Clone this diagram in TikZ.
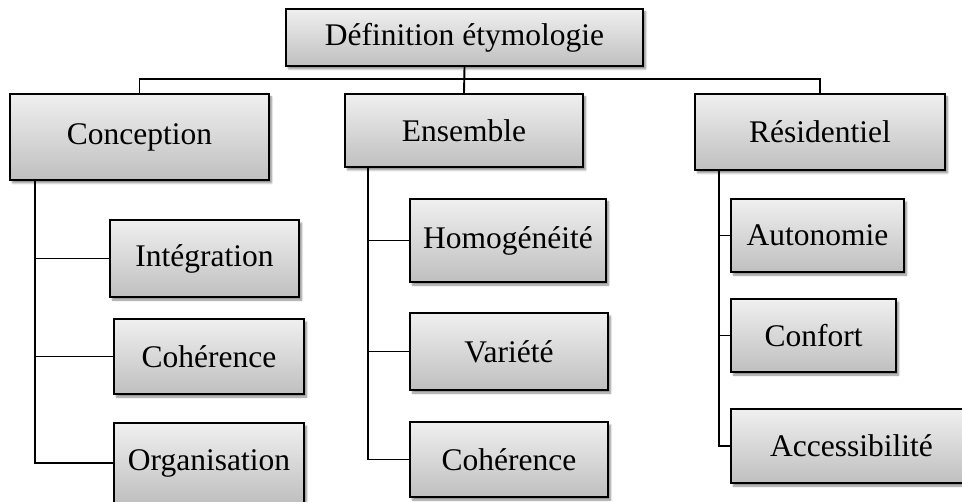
\documentclass[tikz,border=0pt]{standalone}
\usepackage{fontspec}
\setmainfont{Liberation Serif}
\usetikzlibrary{shadows.blur}
\begin{document}
\begin{tikzpicture}[x=1pt,y=-1pt,
  box/.style={draw=black, line width=2.2pt, rectangle, inner sep=0pt,
    top color=gray!12, bottom color=gray!50,
    blur shadow={shadow xshift=2.5pt, shadow yshift=-3pt, shadow blur steps=6, shadow opacity=45},
    font=\fontsize{31.5}{36}\selectfont},
  conn/.style={draw=black, line width=1.9pt}]
\useasboundingbox (0,0) rectangle (962,502);
\node[box, minimum width=357pt, minimum height=57pt] (top) at (464.5,37.5) {Définition étymologie};
\node[box, minimum width=259pt, minimum height=86pt] (conc) at (139.5,137) {Conception};
\node[box, minimum width=238pt, minimum height=73pt] (ens) at (464,130.5) {Ensemble};
\node[box, minimum width=250pt, minimum height=76pt] (res) at (820,132) {Résidentiel};
\node[box, minimum width=189pt, minimum height=77pt] (integ) at (204.5,258.5) {Intégration};
\node[box, minimum width=190pt, minimum height=75pt] (coh) at (209,356.5) {Cohérence};
\node[box, minimum width=190pt, minimum height=80pt] (org) at (209,463) {Organisation};
\node[box, minimum width=196pt, minimum height=83pt] (homo) at (508,240.5) {Homogénéité};
\node[box, minimum width=198pt, minimum height=77pt] (var) at (509,351.5) {Variété};
\node[box, minimum width=198pt, minimum height=75pt] (cohb) at (509,459.5) {Cohérence};
\node[box, minimum width=173pt, minimum height=73pt] (auto) at (817.5,235.5) {Autonomie};
\node[box, minimum width=165pt, minimum height=73pt] (conf) at (813.5,335.5) {Confort};
\node[box, minimum width=241pt, minimum height=74pt] (acc) at (851.5,446) {Accessibilité};
\coordinate (bus) at (464.5,79);
\draw[conn] (top.south) -- (ens.north);
\draw[conn] (conc.north) -- (conc.north |- bus) -- (res.north |- bus) -- (res.north);
\draw[conn] ([xshift=26pt]conc.south west) |- (integ.west);
\draw[conn] ([xshift=26pt]conc.south west) |- (coh.west);
\draw[conn] ([xshift=26pt]conc.south west) |- (org.west);
\draw[conn] ([xshift=24pt]ens.south west) |- (homo.west);
\draw[conn] ([xshift=24pt]ens.south west) |- (var.west);
\draw[conn] ([xshift=24pt]ens.south west) |- (cohb.west);
\draw[conn] ([xshift=25pt]res.south west) |- (auto.west);
\draw[conn] ([xshift=25pt]res.south west) |- (conf.west);
\draw[conn] ([xshift=25pt]res.south west) |- (acc.west);
\end{tikzpicture}
\end{document}
